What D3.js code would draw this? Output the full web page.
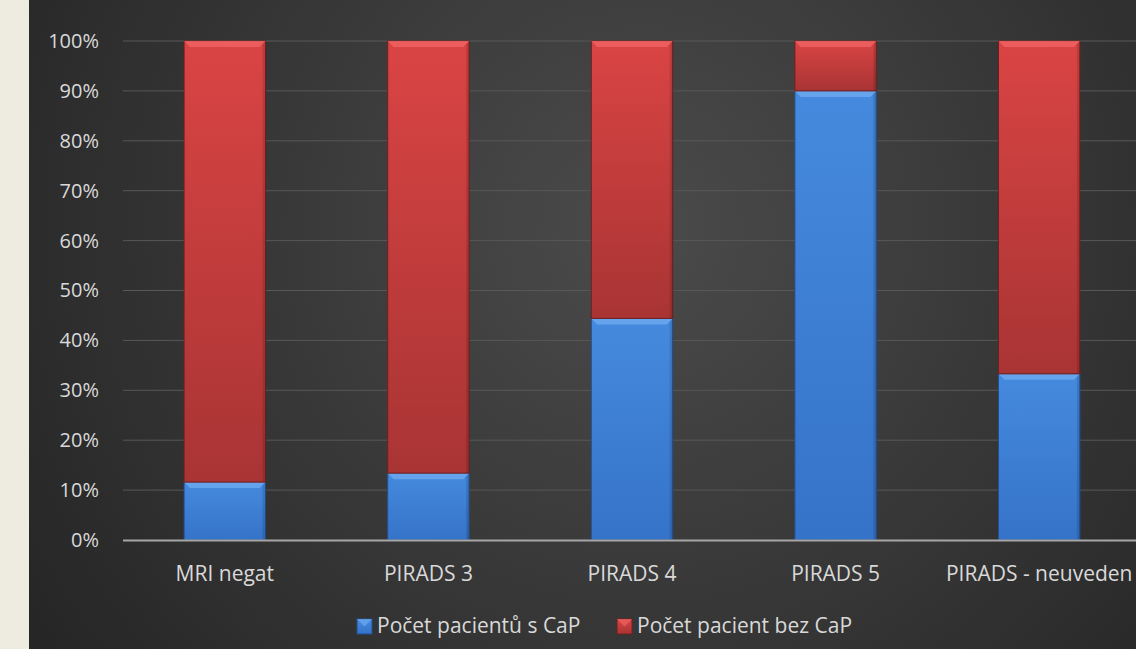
<!DOCTYPE html>
<html>
<head>
<meta charset="utf-8">
<script src="https://cdn.jsdelivr.net/npm/d3@7"></script>
<style>
  html, body { margin: 0; padding: 0; background: #eeece1; }
  svg { display: block; }
</style>
</head>
<body>
<svg id="chart" width="1136" height="649"></svg>
<script>
// categories and stacked shares (percent of patients)
const categories = ["MRI negat", "PIRADS 3", "PIRADS 4", "PIRADS 5", "PIRADS - neuveden"];
const withCaP = [11.6, 13.4, 44.4, 90.0, 33.3];
const withoutCaP = [88.4, 86.6, 55.6, 10.0, 66.7];
const seriesNames = ["Počet pacientů s CaP", "Počet pacient bez CaP"];
const yTicks = [0, 10, 20, 30, 40, 50, 60, 70, 80, 90, 100];

const width = 1136;
const height = 649;
const marginLeft = 123;
const plotRight = 1141;
const yTop = 41;
const yBottom = 540;
const font = "'Open Sans', sans-serif";
const textColor = "#d9d9d9";

const svg = d3.select("#chart");
const defs = svg.append("defs");

// background gradient (dark slide style)
const bg = defs.append("radialGradient")
  .attr("id", "bg")
  .attr("gradientUnits", "userSpaceOnUse")
  .attr("cx", 640).attr("cy", 230).attr("r", 720);
bg.append("stop").attr("offset", "0%").attr("stop-color", "#4b4b4b");
bg.append("stop").attr("offset", "100%").attr("stop-color", "#262626");

// segment gradients: lighter top, darker bottom
const colors = [
  { id: "blueG", top: "#458ade", bottom: "#3573c8", bevel: "#6eaaf0", edge: "#234f8f" },
  { id: "redG", top: "#da4444", bottom: "#a93434", bevel: "#f06464", edge: "#6e2020" }
];
colors.forEach(c => {
  const g = defs.append("linearGradient")
    .attr("id", c.id)
    .attr("x1", 0).attr("y1", 0).attr("x2", 0).attr("y2", 1);
  g.append("stop").attr("offset", "0%").attr("stop-color", c.top);
  g.append("stop").attr("offset", "100%").attr("stop-color", c.bottom);
});

svg.append("rect")
  .attr("x", 29).attr("y", 0)
  .attr("width", width - 29).attr("height", height)
  .attr("fill", "url(#bg)");

const x = d3.scaleBand()
  .domain(categories)
  .range([marginLeft, plotRight])
  .paddingInner(0.6)
  .paddingOuter(0.3);

const y = d3.scaleLinear()
  .domain([0, 100])
  .range([yBottom, yTop]);

// gridlines
svg.append("g")
  .selectAll("line")
  .data(yTicks.filter(d => d > 0))
  .join("line")
  .attr("x1", marginLeft).attr("x2", width)
  .attr("y1", d => y(d)).attr("y2", d => y(d))
  .attr("stroke", "#585858")
  .attr("stroke-width", 1);

// y axis labels
const yAxis = d3.axisLeft(y)
  .tickValues(yTicks)
  .tickFormat(d => d + "%")
  .tickSize(0)
  .tickPadding(24);
const yg = svg.append("g")
  .attr("transform", `translate(${marginLeft},0)`)
  .call(yAxis);
yg.select(".domain").remove();
yg.selectAll("text")
  .attr("fill", textColor)
  .style("font-family", font)
  .style("font-size", "20px");

// stacked data
const stackData = categories.map((c, i) => ({ cat: c, a: withCaP[i], b: withoutCaP[i] }));
const stack = d3.stack().keys(["a", "b"])(stackData);

const bw = x.bandwidth();
const bev = 6;

stack.forEach((layer, li) => {
  const c = colors[li];
  const g = svg.append("g");
  layer.forEach(d => {
    const x0 = x(d.data.cat);
    const yT = y(d[1]);
    const yB = y(d[0]);
    const h = yB - yT;
    if (h <= 0) return;
    g.append("rect")
      .attr("x", x0).attr("y", yT)
      .attr("width", bw).attr("height", h)
      .attr("fill", `url(#${c.id})`)
      .attr("stroke", c.edge)
      .attr("stroke-width", 1);
    // top bevel highlight
    g.append("polygon")
      .attr("points", [
        [x0, yT], [x0 + bw, yT], [x0 + bw - bev, yT + bev], [x0 + bev, yT + bev]
      ].map(p => p.join(",")).join(" "))
      .attr("fill", c.bevel)
      .attr("opacity", 0.8);
    // right edge shade
    g.append("polygon")
      .attr("points", [
        [x0 + bw, yT], [x0 + bw, yB], [x0 + bw - 3, yB], [x0 + bw - 3, yT + 3]
      ].map(p => p.join(",")).join(" "))
      .attr("fill", "#000")
      .attr("opacity", 0.12);
  });
});

// x axis baseline and labels
svg.append("line")
  .attr("x1", marginLeft).attr("x2", width)
  .attr("y1", y(0) + 0.5).attr("y2", y(0) + 0.5)
  .attr("stroke", "#a6a6a6")
  .attr("stroke-width", 2);

const xAxis = d3.axisBottom(x).tickSize(0).tickPadding(26);
const xg = svg.append("g")
  .attr("transform", `translate(0,${yBottom})`)
  .call(xAxis);
xg.select(".domain").remove();
xg.selectAll("text")
  .attr("fill", textColor)
  .style("font-family", font)
  .style("font-size", "21px");

// legend
const legendItems = [
  { name: seriesNames[0], c: colors[0], x: 357 },
  { name: seriesNames[1], c: colors[1], x: 617 }
];
const lg = svg.append("g").selectAll("g")
  .data(legendItems)
  .join("g")
  .attr("transform", d => `translate(${d.x},${626})`);
lg.append("rect")
  .attr("x", 0).attr("y", -7)
  .attr("width", 15).attr("height", 15)
  .attr("fill", d => `url(#${d.c.id})`)
  .attr("stroke", d => d.c.edge);
lg.append("polygon")
  .attr("points", "0,-7 15,-7 7.5,0.5")
  .attr("fill", d => d.c.bevel)
  .attr("opacity", 0.7);
lg.append("text")
  .attr("x", 20).attr("y", 0)
  .attr("dy", "0.35em")
  .attr("fill", textColor)
  .style("font-family", font)
  .style("font-size", "21px")
  .text(d => d.name);
</script>
</body>
</html>
